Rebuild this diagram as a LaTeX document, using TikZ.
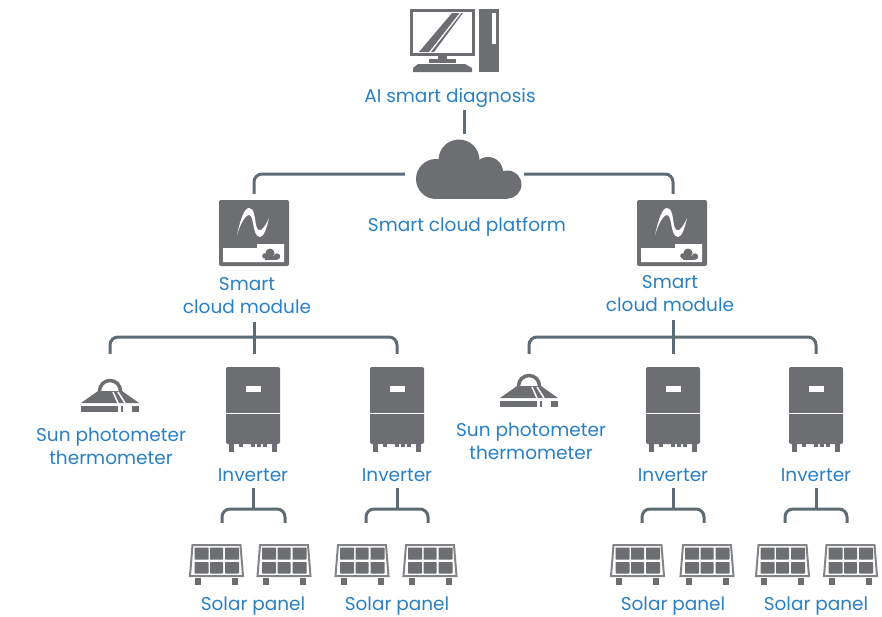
\documentclass[tikz,border=0pt]{standalone}
\usepackage{fontspec}
\setmainfont{Poppins}
\usetikzlibrary{positioning}

\definecolor{icongrey}{HTML}{6D6E71}
\definecolor{wiregrey}{HTML}{5D6B75}
\definecolor{textblue}{HTML}{2A80C4}

\tikzset{
  computer/.pic = {
    \fill[icongrey] (0,0) rectangle (65,47);
    \fill[white] (3,3) rectangle (62,44);
    \fill[icongrey] (9,43) -- (19,43) -- (49.5,4) -- (42,4) -- cycle;
    \fill[icongrey] (21,43) -- (24,43) -- (53,4) -- (51.5,4) -- cycle;
    \fill[icongrey] (28,47) rectangle (37,50);
    \fill[icongrey] (19,50) rectangle (46,54);
    \fill[icongrey] (8,55) -- (55,55) -- (62,59) -- (62,63) -- (3,63) -- (3,59) -- cycle;
    \fill[icongrey] (69,0) rectangle (89,63);
    \fill[white] (82,4) rectangle (86,35);
  },
  cloudicon/.pic = {
    \fill[icongrey] (-5.5,-14) circle (20.5);
    \fill[icongrey] (-28.5,5) circle (20);
    \fill[icongrey] (23.5,-2) circle (15);
    \fill[icongrey] (43,10.5) circle (14);
    \fill[icongrey] (-28.5,0) rectangle (43,25);
  },
  moduleicon/.pic = {
    \fill[icongrey, rounded corners=2] (-35,-33) rectangle (35,33);
    \fill[white] (-31,15) -- (3,15) -- (3,11) -- (30,11) -- (30,29) -- (-31,29) -- cycle;
    \fill[white] (-17,2) .. controls (-14,-12) and (-10,-25) .. (-5,-25)
      .. controls (0,-26) and (1,-14) .. (2,-8)
      .. controls (3,-3) and (5,-2) .. (7,-3)
      .. controls (10,-5) and (13,-10) .. (15,-15)
      .. controls (13,-6) and (10,4) .. (6,4)
      .. controls (1,4) and (0,-5) .. (-1,-10)
      .. controls (-2,-15) and (-3,-18) .. (-5,-18)
      .. controls (-9,-18) and (-14,-8) .. (-17,2) -- cycle;
    \fill[icongrey] (11,23) circle (2.8);
    \fill[icongrey] (16,20) circle (4.5);
    \fill[icongrey] (23,23.5) circle (3.2);
    \fill[icongrey] (11,23) rectangle (23,26.7);
  },
  sunicon/.pic = {
    \draw[icongrey, line width=3.5] (-10.5,0) arc (180:360:10.5);
    \fill[icongrey] (-29,12) -- (-12,0) -- (12,0) -- (29,12) -- cycle;
    \draw[white, line width=1.5] (3,1) -- (8,12) (8,1) -- (15,12);
    \fill[icongrey] (-29,15) rectangle (8,21);
    \fill[icongrey] (10.5,15) rectangle (13,21);
    \fill[icongrey] (22,15) rectangle (29,21);
  },
  invicon/.pic = {
    \fill[icongrey, rounded corners=2] (-27,0) rectangle (27,77);
    \fill[white] (-27,45.5) rectangle (27,47);
    \fill[white] (-7.5,19) rectangle (7.5,25);
    \fill[icongrey] (-24,77) rectangle (-19,85);
    \fill[icongrey] (19,77) rectangle (24,85);
    \foreach \fx in {-14,-2,4,10}
      \fill[icongrey] (\fx,77) rectangle ++(4,3);
  },
  panelicon/.pic = {
    \draw[icongrey!85, fill=white, line width=2] (-24,1) -- (24,1) -- (26.5,32) -- (-26.5,32) -- cycle;
    \foreach \cx/\cw in {-22/14,-6.5/13,8.5/14}
      \foreach \cy/\ch in {3.5/12,18/11.5}
        \fill[icongrey, rounded corners=0.6] (\cx,\cy) rectangle ++(\cw,\ch);
    \fill[icongrey] (-21.5,34) rectangle (-15.5,41);
    \fill[icongrey] (15.5,34) rectangle (21.5,41);
  }
}

\begin{document}
\begin{tikzpicture}[x=1pt, y=-1pt,
                    wire/.style = {draw = wiregrey,
                                   line width = 3pt,
                                   rounded corners = 8pt},
                    slot/.style = {inner sep = 0pt,
                                   minimum width = 1pt},
                    caption/.style = {text = textblue,
                                      align = center,
                                      inner sep = 0pt,
                                      font = \fontsize{18.5}{23}\selectfont},
                    oneline/.style = {caption,
                                      text height = 12pt,
                                      text depth = 0pt}]

\useasboundingbox (0,0) rectangle (882,616);

% icons
\pic at (410,9) {computer};
\pic at (464.5,174) {cloudicon};
\pic at (254,233) {moduleicon};
\pic at (672,233) {moduleicon};
\pic at (110,391) {sunicon};
\pic at (529,386) {sunicon};

% top part
\node[oneline] (ailabel) at (450,96) {AI smart diagnosis};
\node[slot, minimum width = 119, minimum height = 80] (cloud) at (464.5,174) {};
\node[oneline] (platlabel) at (467,225) {Smart cloud platform};
\node[slot, minimum width = 70, minimum height = 72] (modL) at (254,230) {};
\node[slot, minimum width = 70, minimum height = 72] (modR) at (673,230) {};
\node[caption] (modlabL) at (247,296) {Smart\\cloud module};
\node[caption] (modlabR) at (670,294) {Smart\\cloud module};

\draw[wire] (cloud.north) -- (cloud.north |- 0,110);
\draw[wire] (cloud.west) -| (modL.north);
\draw[wire] (cloud.east) -| (modR.north);

% sensors
\node[slot, minimum height = 58] (sunL) at (110,383) {};
\node[slot, minimum height = 58] (sunR) at (529,383) {};
\node[caption] (sunlabL) at (111,446) {Sun photometer\\thermometer};
\node[caption] (sunlabR) at (531,441) {Sun photometer\\thermometer};

% inverter and its two panels
\foreach \n/\x/\wl/\wr/\pl/\pr in {a/253/222/285/216.5/284,
                                   b/397/366/428/362/430,
                                   c/673/642/704/637.5/707,
                                   d/816/785/847/782.5/850.5}{
  \pic at (\x,367) {invicon};
  \pic at (\pl,544) {panelicon};
  \pic at (\pr,544) {panelicon};
  \node[slot, minimum height = 98] (inv\n) at (\x,403) {};
  \node[oneline] (invlab\n) at (\x,475) {Inverter};
  \node[slot, minimum height = 62] (pan\n l) at (\wl,554) {};
  \node[slot, minimum height = 62] (pan\n r) at (\wr,554) {};
  \node[oneline] (panlab\n) at (\x,604.5) {Solar panel};
  \coordinate (jun\n) at (\x,509);
  \draw[wire] (invlab\n.south |- 0,488) -- (jun\n);
  \draw[wire] (pan\n l.north) |- (jun\n) -| (pan\n r.north);
}

\coordinate (junL) at (254,337);
\coordinate (junR) at (673,337);

\draw[wire] (junL |- 0,322) -- (inva.north -| junL);
\draw[wire] (junR |- 0,320) -- (invc.north -| junR);
\draw[wire] (sunL.north) |- (junL) -| (invb.north);
\draw[wire] (sunR.north) |- (junR) -| (invd.north);

\end{tikzpicture}
\end{document}
